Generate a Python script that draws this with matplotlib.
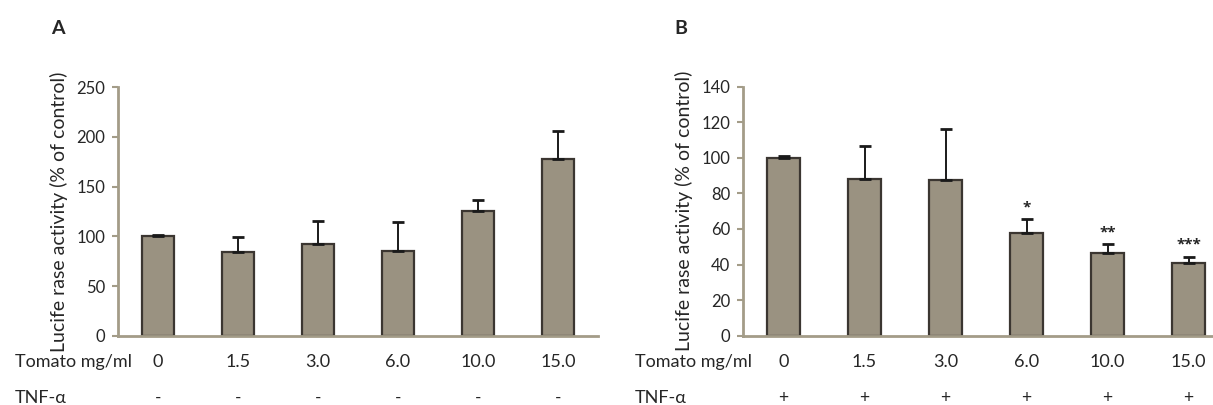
import matplotlib.pyplot as plt
from matplotlib import transforms

plt.rcParams['font.family'] = ['Lato', 'DejaVu Sans']

doses = ['0', '1.5', '3.0', '6.0', '10.0', '15.0']

# panel A: tomato alone
vals_a = [100, 84, 92.5, 85, 126, 178]
err_a = [1, 15, 23, 29, 11, 28]
tnf_a = ['-', '-', '-', '-', '-', '-']

# panel B: tomato + TNF-alpha
vals_b = [100, 88, 87.8, 58, 46.7, 40.7]
err_b = [1, 18.6, 28.5, 7.6, 4.7, 3.7]
tnf_b = ['+', '+', '+', '+', '+', '+']
stars_b = ['', '', '', '*', '**', '***']

W, H = 1213, 405
bar_color = '#9a9281'
edge_color = '#3b3631'
axis_color = '#a39c88'
text_color = '#262626'

fig = plt.figure(figsize=(W / 100, H / 100), dpi=100)


def panel(rect, vals, errs, tnf, ymax, ystep, letter, letter_x, row_x, stars=None):
    ax = fig.add_axes(rect)
    x = range(len(vals))
    ax.bar(x, vals, width=0.41, color=bar_color, edgecolor=edge_color, linewidth=1.6, zorder=2)
    ax.errorbar(x, vals, yerr=[[0] * len(errs), errs], fmt='none', ecolor='#1a1a1a',
                elinewidth=1.4, capsize=4, capthick=2, zorder=3)
    ax.set_xlim(-0.5, len(vals) - 0.5)
    ax.set_ylim(0, ymax)
    ax.set_yticks(range(0, ymax + 1, ystep))
    ax.set_xticks([])
    for s in ['top', 'right']:
        ax.spines[s].set_visible(False)
    for s in ['left', 'bottom']:
        ax.spines[s].set_color(axis_color)
        ax.spines[s].set_linewidth(2)
    ax.tick_params(axis='y', colors=axis_color, length=4, width=1.5, labelsize=12,
                   labelcolor=text_color, pad=5)
    ax.set_ylabel('Lucife rase activity (% of control)', fontsize=14, color=text_color, labelpad=6)

    if stars:
        px = ax.transData.transform((0, 1))[1] - ax.transData.transform((0, 0))[1]
        for i, s in enumerate(stars):
            if s:
                ax.text(i, vals[i] + errs[i] + 12 / px, s, ha='center', va='center', fontsize=11,
                        fontweight='bold', color=text_color, family='Open Sans')

    trans = transforms.blended_transform_factory(ax.transData, fig.transFigure)
    for i, d in enumerate(doses):
        ax.text(i, 1 - 362 / H, d, transform=trans, ha='center', va='center', fontsize=13,
                color=text_color)
        ax.text(i, 1 - 398 / H, tnf[i], transform=trans, ha='center', va='center', fontsize=12.5,
                color=text_color)
    fig.text(row_x / W, 1 - 362 / H, 'Tomato mg/ml', ha='left', va='center', fontsize=13,
             color=text_color)
    fig.text(row_x / W, 1 - 398 / H, 'TNF-α', ha='left', va='center', fontsize=13,
             color=text_color)
    fig.text(letter_x / W, 1 - 28 / H, letter, ha='center', va='center', fontsize=14,
             fontweight='bold', color=text_color)
    return ax


panel([118 / W, 1 - 335.7 / H, 480 / W, (335.7 - 87.3) / H], vals_a, err_a, tnf_a,
      250, 50, 'A', 58, 15)
panel([743 / W, 1 - 335.7 / H, 486 / W, (335.7 - 86.7) / H], vals_b, err_b, tnf_b,
      140, 20, 'B', 681, 635, stars_b)

fig.savefig('out.png', dpi=100)
